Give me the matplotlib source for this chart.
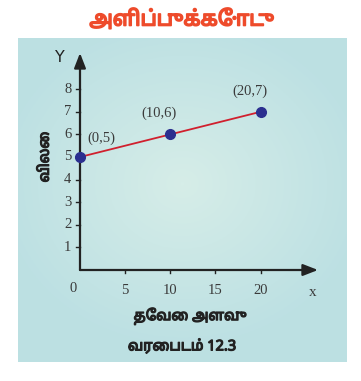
import numpy as np
import matplotlib
matplotlib.use("Agg")
import matplotlib.pyplot as plt
import matplotlib.patheffects as pe

# data
title = "அளிப்புக்கோடு"
x_label = "தேவை அளவு"
y_label = "விலை"
caption = "வரைபடம் 12.3"
qty = [0, 10, 20]
price = [5, 6, 7]
point_labels = ["(0,5)", "(10,6)", "(20,7)"]
x_ticks = [5, 10, 15, 20]
y_ticks = [1, 2, 3, 4, 5, 6, 7, 8]

TAMIL = ["Noto Sans Tamil", "Lohit Tamil", "Anek Tamil", "DejaVu Sans"]
SERIF = "Liberation Serif"
TXT = "#3a3a3a"


def bold(color, w=0.9):
    # fake a heavier weight, the tamil font has no bold face
    return [pe.withStroke(linewidth=w, foreground=color)]


fig = plt.figure(figsize=(3.61, 3.81), dpi=100)

# panel in pixels: x 18..347, y 38..362 (from top)
W, H = 361, 381
left, right, top, bottom = 18, 347, 38, 362
ax = fig.add_axes([left / W, (H - bottom) / H, (right - left) / W, (bottom - top) / H])

# data origin at px (80, 270), 9.03 px per x unit, 22.6 px per y unit
x0, y0, sx, sy = 80, 270, 9.03, 22.6
xlim = ((left - x0) / sx, (right - x0) / sx)
ylim = ((y0 - bottom) / sy, (y0 - top) / sy)
ax.set_xlim(*xlim)
ax.set_ylim(*ylim)
ax.axis("off")

# light blue radial background
gx, gy = np.meshgrid(np.linspace(-1, 1, 200), np.linspace(-1, 1, 200))
r = np.clip(np.sqrt((gx * 0.9) ** 2 + (gy * 1.0 + 0.1) ** 2), 0, 1)
c_in = np.array([0.84, 0.93, 0.91])
c_out = np.array([0.74, 0.88, 0.89])
img = c_in[None, None, :] * (1 - r[..., None]) + c_out[None, None, :] * r[..., None]
ax.imshow(img, extent=[xlim[0], xlim[1], ylim[0], ylim[1]], aspect="auto", zorder=0)

# axes with arrows
ax.annotate("", xy=(0, (y0 - 53) / sy), xytext=(0, 0),
            arrowprops=dict(arrowstyle="-|>,head_length=0.9,head_width=0.35",
                            color="#222222", lw=1.6, shrinkA=0, shrinkB=0), zorder=2)
ax.annotate("", xy=((318 - x0) / sx, 0), xytext=(0, 0),
            arrowprops=dict(arrowstyle="-|>,head_length=0.9,head_width=0.35",
                            color="#222222", lw=1.6, shrinkA=0, shrinkB=0), zorder=2)

# ticks and tick labels
for v in y_ticks:
    ax.plot([-0.45, 0], [v, v], color="#222222", lw=1.0, zorder=2)
    ax.text(-0.95, v, str(v), ha="right", va="center", fontsize=10.5,
            family=SERIF, color=TXT)
for v in x_ticks:
    ax.plot([v, v], [0, -0.15], color="#222222", lw=1.0, zorder=2)
    ax.text(v, -0.6, str(v), ha="center", va="top", fontsize=10.5,
            family=SERIF, color=TXT)
ax.text(-0.75, -0.55, "0", ha="center", va="top", fontsize=10.5, family=SERIF, color=TXT)
ax.text(-2.2, (y0 - 58) / sy, "Y", ha="center", va="center", fontsize=11.5,
        family="DejaVu Sans", color="#222222")
ax.text(25.8, -0.98, "x", ha="center", va="center", fontsize=11,
        family=SERIF, color=TXT)

# supply line
ax.plot(qty, price, color="#d0202e", lw=1.3, zorder=3)
ax.plot(qty, price, "o", color="#2b2f8f", markersize=7, zorder=4)
offsets = [(0.8, 0.55, "left"), (-1.2, 0.63, "center"), (-1.2, 0.6, "center")]
for (x, y, s), (dx, dy, ha) in zip(zip(qty, price, point_labels), offsets):
    ax.text(x + dx, y + dy, s, ha=ha, va="bottom", fontsize=10.5,
            family=SERIF, color=TXT)

# axis titles
ax.text(-3.85, 5, y_label, rotation=90, ha="center", va="center", fontsize=10.5,
        family=TAMIL, color="#222222", path_effects=bold("#222222"))
ax.text(12.2, -2.05, x_label, ha="center", va="center", fontsize=10.5,
        family=TAMIL, color="#222222", path_effects=bold("#222222"))
ax.text(11.3, -3.4, caption, ha="center", va="center", fontsize=10.5,
        family=TAMIL, color="#222222", path_effects=bold("#222222"))

fig.text(182 / W, 1 - 20 / H, title, ha="center", va="center", fontsize=15,
         family=TAMIL, color="#ee4b2b", path_effects=bold("#ee4b2b", 1.2))

fig.savefig("out.png", dpi=100)
